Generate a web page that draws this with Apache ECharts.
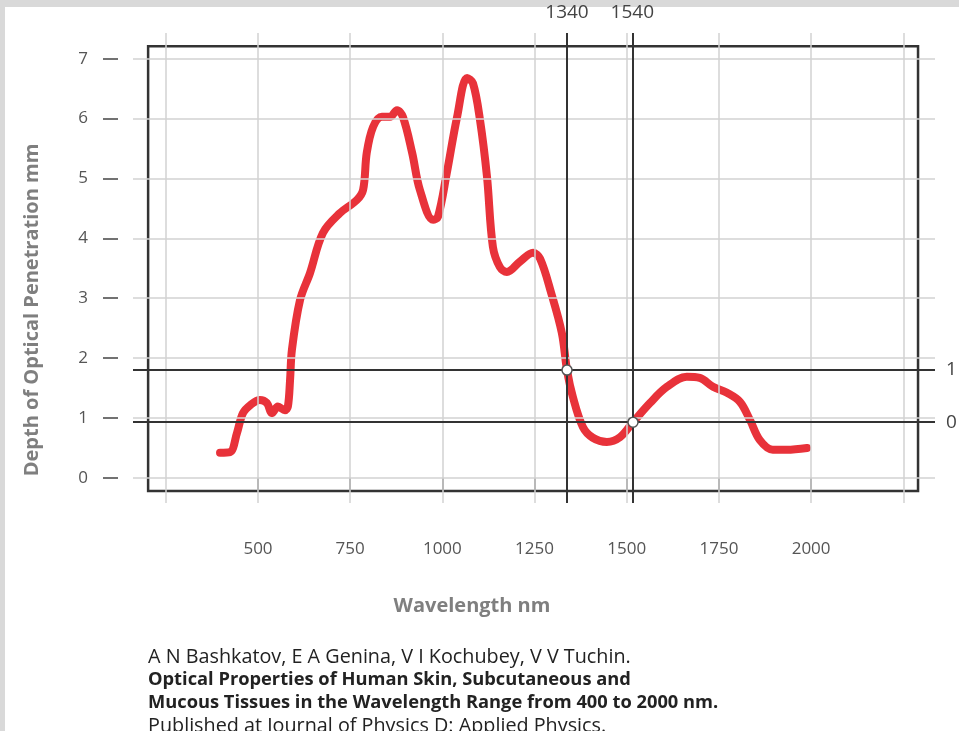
<!DOCTYPE html>
<html>
<head>
<meta charset="utf-8">
<script src="https://cdn.jsdelivr.net/npm/echarts@6/dist/echarts.min.js"></script>
<style>
html,body{margin:0;padding:0;background:#fff;}
#chart{width:959px;height:731px;}
</style>
</head>
<body>
<div id="chart"></div>
<script>
// ---- data ----
var wavelength = [397,424,443,459,480,505,524,538,554,573,581,587,592,614,641,676,722,768,785,795,812,836,858,877,893,918,939,975,988,1012,1040,1067,1083,1102,1121,1137,1156,1175,1210,1246,1265,1295,1324,1338,1354,1381,1408,1446,1482,1517,1563,1609,1663,1698,1734,1772,1807,1834,1861,1896,1934,1989];
var depth = [0.42,0.43,0.75,1.08,1.22,1.30,1.25,1.08,1.19,1.13,1.19,1.64,2.14,2.97,3.42,4.09,4.42,4.64,4.81,5.43,5.86,6.03,6.03,6.14,6.03,5.43,4.81,4.31,4.36,5.09,6.03,6.68,6.59,5.98,5.03,3.86,3.52,3.44,3.61,3.76,3.66,3.09,2.42,1.80,1.35,0.85,0.67,0.60,0.68,0.93,1.25,1.52,1.69,1.67,1.52,1.42,1.27,0.97,0.63,0.47,0.47,0.50];
var xTickLabels = [500,750,1000,1250,1500,1750,2000];
var yTickLabels = [0,1,2,3,4,5,6,7];
var xGridValues = [250,500,750,1000,1250,1500,1750,2000,2250];
var yGridValues = [0,1,2,3,4,5,6,7];
var refVertical = [1338,1515];
var refVerticalLabels = ['1340','1540'];
var refHorizontal = [1.80,0.93];
var refHorizontalLabels = ['1','0'];
var crossPoints = [[1338,1.80],[1517,0.93]];
var frameCorners = [[202,7.21],[2290,-0.22]];
var xTitle = 'Wavelength nm';
var yTitle = 'Depth of Optical Penetration mm';
var citation = [
  ['A N Bashkatov, E A Genina, V I Kochubey, V V Tuchin.', 'normal'],
  ['Optical Properties of Human Skin, Subcutaneous and', 'bold'],
  ['Mucous Tissues in the Wavelength Range from 400 to 2000 nm.', 'bold'],
  ['Published at Journal of Physics D: Applied Physics.', 'normal']
];

var FONT = 'Open Sans';
var chart = echarts.init(document.getElementById('chart'), null, {renderer:'canvas'});

var curve = wavelength.map(function(w,i){return [w, depth[i]];});

var gridLineData = xGridValues.map(function(v){return {xAxis:v};})
  .concat(yGridValues.map(function(v){return {yAxis:v};}));

var refData = refVertical.map(function(v,i){return {xAxis:v, name:refVerticalLabels[i]};})
  .concat(refHorizontal.map(function(v,i){return {yAxis:v, name:refHorizontalLabels[i]};}));

var graphics = [
  {type:'rect', shape:{x:0,y:0,width:959,height:7}, style:{fill:'#d9d9d9'}, silent:true},
  {type:'rect', shape:{x:0,y:0,width:5,height:731}, style:{fill:'#d9d9d9'}, silent:true},
  {type:'text', x:472, y:606, style:{text:xTitle, fontFamily:FONT, fontSize:20, fontWeight:'bold', fill:'#7f7f7f', textAlign:'center', textVerticalAlign:'middle'}},
  {type:'text', x:32, y:310, rotation:Math.PI/2, style:{text:yTitle, fontFamily:FONT, fontSize:20, fontWeight:'bold', fill:'#7f7f7f', textAlign:'center', textVerticalAlign:'middle'}}
];
var citeY = [657,680,703,726];
citation.forEach(function(c,i){
  graphics.push({type:'text', x:148, y:citeY[i], style:{text:c[0], fontFamily:FONT, fontSize:(c[1]==='bold'?18.3:19.8), fontWeight:c[1], fill:'#222', textAlign:'left', textVerticalAlign:'middle'}});
});

var option = {
  animation:false,
  backgroundColor:'#fff',
  grid:{left:133, right:24, top:33, bottom:228, containLabel:false},
  xAxis:{
    type:'value', min:161, max:2336, offset:12,
    axisLine:{show:false},
    splitLine:{show:false},
    axisTick:{show:true, length:13, customValues:xTickLabels, lineStyle:{color:'#444', width:1.5}},
    axisLabel:{show:true, customValues:xTickLabels, margin:26, fontSize:17, fontFamily:FONT, color:'#555',
      formatter:function(v){return String(v);}}
  },
  yAxis:{
    type:'value', min:-0.42, max:7.43, offset:15,
    axisLine:{show:false},
    splitLine:{show:false},
    axisTick:{show:true, length:15, customValues:yTickLabels, lineStyle:{color:'#444', width:1.5}},
    axisLabel:{show:true, customValues:yTickLabels, margin:30, fontSize:17, fontFamily:FONT, color:'#555',
      formatter:function(v){return String(v);}}
  },
  series:[
    {
      type:'line', data:[], z:1, silent:true,
      markLine:{silent:true, symbol:['none','none'], label:{show:false},
        lineStyle:{color:'#d2d2d2', width:1.5, type:'solid'}, emphasis:{disabled:true},
        data:gridLineData},
      markArea:{silent:true, itemStyle:{color:'rgba(0,0,0,0)', borderColor:'#333', borderWidth:2.5},
        data:[[{coord:frameCorners[0]},{coord:frameCorners[1]}]]}
    },
    {
      type:'line', data:[], z:2, silent:true,
      markLine:{silent:true, symbol:['none','none'],
        lineStyle:{color:'#333', width:2, type:'solid'}, emphasis:{disabled:true},
        label:{show:true, position:'end', formatter:'{b}', fontFamily:FONT, fontSize:19, color:'#444', distance:11},
        data:refData}
    },
    {
      type:'line', data:curve, z:3, smooth:0.35, showSymbol:false, silent:true,
      lineStyle:{color:'#e8323a', width:8, cap:'round', join:'round'}
    },
    {
      type:'scatter', data:crossPoints, z:10, symbol:'circle', symbolSize:10, silent:true,
      itemStyle:{color:'#fff', borderColor:'#555', borderWidth:1.5, opacity:1}
    }
  ],
  graphic:graphics
};
chart.setOption(option);
</script>
</body>
</html>
